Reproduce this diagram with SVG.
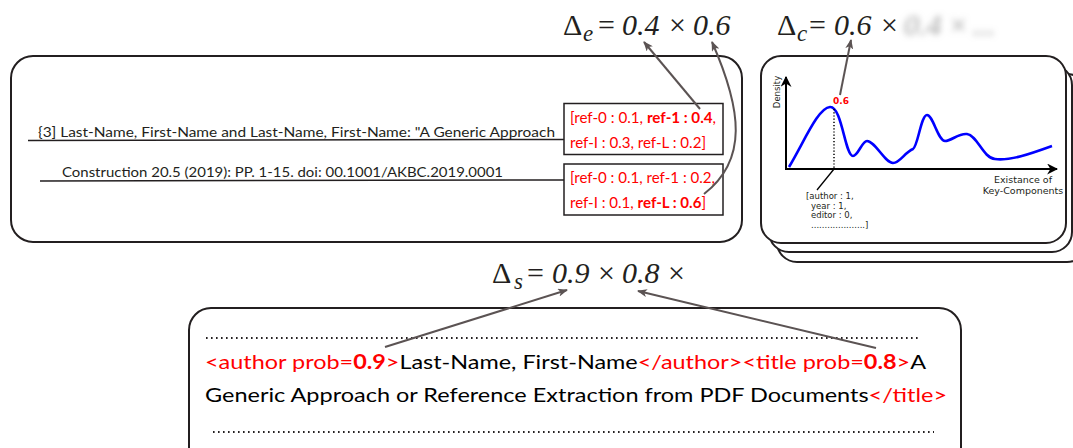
<svg xmlns="http://www.w3.org/2000/svg" width="1073" height="448" viewBox="0 0 1073 448">
<style>
.box{fill:#fff;stroke:#231f20;stroke-width:2}
.cal{font-family:Lato,"Open Sans",sans-serif}
.red{fill:#ff0000}
.b{font-weight:bold}
.fm{font-family:"Liberation Serif","Times New Roman","DejaVu Serif",serif;font-size:30px}
.it{font-style:italic}
.conn{fill:none;stroke:#5b5353;stroke-width:2}
.dv{font-family:"DejaVu Sans",sans-serif}
.dots{stroke:#231f20;stroke-width:2;stroke-dasharray:1.6 3.4}
</style>
<defs>
<marker id="ah" viewBox="0 0 10 8" refX="9" refY="4" markerWidth="10" markerHeight="8" markerUnits="userSpaceOnUse" orient="auto">
<path d="M0,0 L10,4 L0,8 L2.5,4 z" fill="#5b5353"/>
</marker>
<marker id="ax" viewBox="0 0 10 10" refX="9" refY="5" markerWidth="11" markerHeight="11" markerUnits="userSpaceOnUse" orient="auto">
<path d="M0,0 L10,5 L0,10 L3,5 z" fill="#000"/>
</marker>
<filter id="blur" x="-10%" y="-40%" width="120%" height="180%"><feGaussianBlur stdDeviation="3"/></filter>
</defs>

<!-- formulas -->
<g id="formula-e">
<text class="fm" y="35" fill="#231f20"><tspan x="563">Δ</tspan><tspan x="583" y="41" class="it" font-size="23">e</tspan><tspan x="598" y="35">=</tspan><tspan x="622" class="it">0.4</tspan><tspan x="669">×</tspan><tspan x="693" class="it">0.6</tspan></text>
</g>
<g id="formula-c">
<text class="fm" y="35" fill="#231f20"><tspan x="777">Δ</tspan><tspan x="797" y="41" class="it" font-size="23">c</tspan><tspan x="809" y="35">=</tspan><tspan x="834" class="it">0.6</tspan><tspan x="881">×</tspan></text>
<text class="fm" y="35" fill="#a0a0a0" filter="url(#blur)"><tspan x="904" class="it">0.4</tspan><tspan x="950">×</tspan><tspan x="972">...</tspan></text>
</g>
<g id="formula-s">
<text class="fm" y="283" fill="#231f20"><tspan x="492">Δ</tspan><tspan x="514" y="289" class="it" font-size="23">s</tspan><tspan x="527" y="283">=</tspan><tspan x="552" class="it">0.9</tspan><tspan x="598">×</tspan><tspan x="622" class="it">0.8</tspan><tspan x="668">×</tspan></text>
</g>

<!-- reference box -->
<g id="reference-box">
<rect class="box" x="11" y="56" width="731" height="186" rx="22"/>
<text class="cal" font-size="14" fill="#231f20" x="38" y="137" textLength="517" lengthAdjust="spacingAndGlyphs">{3] Last-Name, First-Name and Last-Name, First-Name: "A Generic Approach</text>
<line x1="28" y1="140.5" x2="564" y2="139.5" stroke="#231f20" stroke-width="1.5"/>
<text class="cal" font-size="14" fill="#231f20" x="62" y="177" textLength="441" lengthAdjust="spacingAndGlyphs">Construction 20.5 (2019): PP. 1-15. doi: 00.1001/AKBC.2019.0001</text>
<line x1="40" y1="181" x2="564" y2="180" stroke="#231f20" stroke-width="1.5"/>
</g>
<g id="prob-box-1">
<rect x="564" y="103.5" width="159" height="51" fill="#fff" stroke="#231f20" stroke-width="1.5"/>
<text class="cal red" font-size="15" x="570" y="123" textLength="146" lengthAdjust="spacingAndGlyphs">[ref-0 : 0.1, <tspan class="b">ref-1 : 0.4</tspan>,</text>
<text class="cal red" font-size="15" x="570" y="148" textLength="136" lengthAdjust="spacingAndGlyphs">ref-I : 0.3, ref-L : 0.2]</text>
</g>
<g id="prob-box-2">
<rect x="564" y="164" width="159" height="51" fill="#fff" stroke="#231f20" stroke-width="1.5"/>
<text class="cal red" font-size="15" x="570" y="183" textLength="145" lengthAdjust="spacingAndGlyphs">[ref-0 : 0.1, ref-1 : 0.2,</text>
<text class="cal red" font-size="15" x="570" y="208" textLength="136" lengthAdjust="spacingAndGlyphs">ref-I : 0.1, <tspan class="b">ref-L : 0.6</tspan>]</text>
</g>

<!-- density chart stack -->
<g id="density-chart">
<rect class="box" x="777" y="74" width="310" height="188" rx="20"/>
<rect class="box" x="769" y="65" width="303" height="187" rx="20"/>
<rect class="box" x="761" y="56" width="305" height="187" rx="20"/>
<line x1="786" y1="169.5" x2="786" y2="77" stroke="#000" stroke-width="2" marker-end="url(#ax)"/>
<line x1="785" y1="169" x2="1057" y2="169" stroke="#000" stroke-width="2" marker-end="url(#ax)"/>
<text class="dv" fill="#231f20" font-size="8.5" transform="translate(780,92) rotate(-90)" text-anchor="middle">Density</text>
<path d="M789,167 C805,140 818,108 830,107 C842,106 845,156 853,156 C858,156 862,141 867,141 C875,141 885,163 893,163 C900,163 905,152 913,149 C918,146 921,115 927,115 C933,115 938,141 945,141 C952,141 958,133 967,134 C977,135 983,158 995,159 C1010,161 1030,154 1052,146" fill="none" stroke="#0000ff" stroke-width="2.6"/>
<line x1="834" y1="109" x2="834" y2="168" stroke="#000" stroke-width="1.5" stroke-dasharray="1.2 2"/>
<line x1="834" y1="169" x2="817" y2="190" stroke="#000" stroke-width="1.3"/>
<text class="dv b" font-size="9" fill="#ff0000" x="833" y="104">0.6</text>
<g class="dv" fill="#231f20" font-size="8.5">
<text x="806" y="199">[author : 1,</text>
<text x="811" y="209">year : 1,</text>
<text x="811" y="218">editor : 0,</text>
<text x="811" y="228">....................]</text>
<text font-size="9.5" x="1023" y="183" text-anchor="middle">Existance of</text>
<text font-size="9.5" x="1023" y="194" text-anchor="middle">Key-Components</text>
</g>
</g>

<!-- tagged output box -->
<g id="tagged-output">
<rect class="box" x="189" y="308" width="772" height="170" rx="22"/>
<line class="dots" x1="206" y1="338" x2="921" y2="338"/>
<text class="cal" font-size="20" fill="#000" x="205" y="369" textLength="721" lengthAdjust="spacingAndGlyphs"><tspan class="red">&lt;author prob=</tspan><tspan class="red b">0.9</tspan><tspan class="red">&gt;</tspan>Last-Name, First-Name<tspan class="red">&lt;/author&gt;&lt;title prob=</tspan><tspan class="red b">0.8</tspan><tspan class="red">&gt;</tspan>A</text>
<text class="cal" font-size="20" fill="#000" x="205" y="402" textLength="742" lengthAdjust="spacingAndGlyphs">Generic Approach or Reference Extraction from PDF Documents<tspan class="red">&lt;/title&gt;</tspan></text>
<line class="dots" x1="213" y1="432" x2="934" y2="432"/>
</g>

<!-- connectors -->
<g id="connectors">
<path class="conn" d="M700,109 L644,42" marker-end="url(#ah)"/>
<path class="conn" d="M704,194 C748,160 742,110 712,42" marker-end="url(#ah)"/>
<path class="conn" d="M840,95 L851,40" marker-end="url(#ah)"/>
<path class="conn" d="M385,347 L567,290" marker-end="url(#ah)"/>
<path class="conn" d="M876,348 L638,291" marker-end="url(#ah)"/>
</g>
</svg>
